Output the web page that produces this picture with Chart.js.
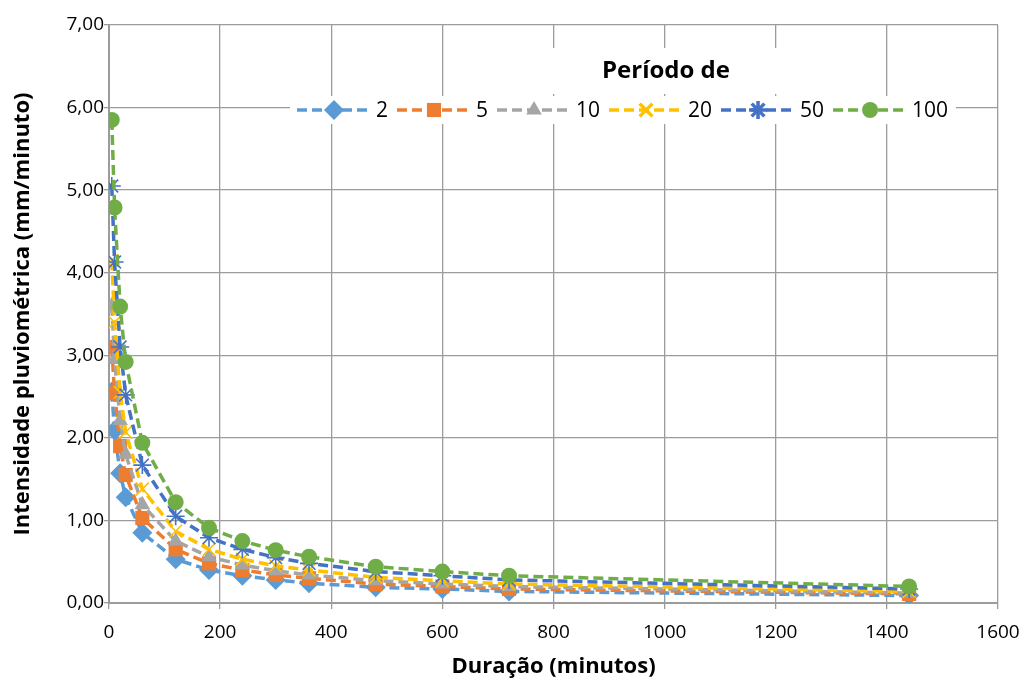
<!DOCTYPE html>
<html>
<head>
<meta charset="utf-8">
<script src="https://cdn.jsdelivr.net/npm/chart.js@4"></script>
<style>
  html, body { margin: 0; padding: 0; background: #fff; }
  #wrap { width: 1025px; height: 686px; }
</style>
</head>
<body>
<div id="wrap"><canvas id="chart" width="1025" height="686"></canvas></div>
<script>
"use strict";

// durations in minutes (x) and intensities in mm/minute per return period
const durations = [5, 10, 20, 30, 60, 120, 180, 240, 300, 360, 480, 600, 720, 1440];
const periodLabels = ['2', '5', '10', '20', '50', '100'];
const xTicks = [0, 200, 400, 600, 800, 1000, 1200, 1400, 1600];
const yTicks = [0, 1, 2, 3, 4, 5, 6, 7];

const period2 = [2.56, 2.09, 1.57, 1.28, 0.85, 0.53, 0.40, 0.33, 0.28, 0.24, 0.19, 0.17, 0.14, 0.09];
const period5 = [3.10, 2.54, 1.90, 1.55, 1.03, 0.65, 0.48, 0.40, 0.34, 0.30, 0.23, 0.20, 0.17, 0.11];
const period10 = [3.60, 2.95, 2.21, 1.80, 1.19, 0.75, 0.56, 0.46, 0.39, 0.34, 0.27, 0.23, 0.20, 0.12];
const period20 = [4.15, 3.40, 2.55, 2.07, 1.38, 0.87, 0.65, 0.53, 0.45, 0.40, 0.31, 0.27, 0.23, 0.14];
const period50 = [5.05, 4.13, 3.10, 2.52, 1.67, 1.05, 0.79, 0.65, 0.55, 0.48, 0.38, 0.33, 0.28, 0.17];
const period100 = [5.85, 4.79, 3.59, 2.92, 1.94, 1.22, 0.91, 0.75, 0.64, 0.56, 0.44, 0.38, 0.33, 0.20];

const FONT = "'Open Sans', 'Liberation Sans', sans-serif";
const GRID = '#9c9c9c';

function toPoints(values) {
    return durations.map((d, i) => ({ x: d, y: values[i] }));
}

function makeSeries(label, values, color, pointStyle, radius, order) {
    const lineOnly = pointStyle === 'crossRot' || pointStyle === 'star';
    return {
        label: label,
        data: toPoints(values),
        borderColor: color,
        backgroundColor: color,
        borderWidth: 3.5,
        borderDash: [10, 5],
        tension: 0,
        pointStyle: pointStyle,
        pointRadius: radius,
        pointHoverRadius: radius,
        pointBackgroundColor: color,
        pointBorderColor: color,
        pointBorderWidth: lineOnly ? 1.6 : 0,
        order: order
    };
}

const datasets = [
    makeSeries(periodLabels[0], period2, '#5B9BD5', 'rectRot', 10, 6),
    makeSeries(periodLabels[1], period5, '#ED7D31', 'rect', 10, 5),
    makeSeries(periodLabels[2], period10, '#A5A5A5', 'triangle', 9, 4),
    makeSeries(periodLabels[3], period20, '#FFC000', 'crossRot', 9, 3),
    makeSeries(periodLabels[4], period50, '#4472C4', 'star', 9, 2),
    makeSeries(periodLabels[5], period100, '#70AD47', 'circle', 8, 1)
];

// legend drawn inside the plot, over a white box, like the spreadsheet one
const insideLegend = {
    id: 'insideLegend',
    afterDraw(chart) {
        const ctx = chart.ctx;
        ctx.save();
        ctx.fillStyle = '#fff';
        ctx.fillRect(545, 48, 245, 46);
        ctx.fillRect(290, 96, 666, 28);

        ctx.fillStyle = '#000';
        ctx.font = 'bold 24px ' + FONT;
        ctx.textAlign = 'center';
        ctx.textBaseline = 'middle';
        ctx.fillText('Período de', 666, 71);

        ctx.font = '21px ' + FONT;
        ctx.textAlign = 'left';
        let x = 297;
        const y = 110;
        chart.data.datasets.forEach(ds => {
            ctx.save();
            ctx.strokeStyle = ds.borderColor;
            ctx.lineWidth = ds.borderWidth;
            ctx.setLineDash(ds.borderDash);
            ctx.beginPath();
            ctx.moveTo(x, y);
            ctx.lineTo(x + 70, y);
            ctx.stroke();
            ctx.setLineDash([]);
            ctx.fillStyle = ds.pointBackgroundColor;
            ctx.strokeStyle = ds.pointBorderColor;
            Chart.helpers.drawPoint(ctx, {
                pointStyle: ds.pointStyle,
                radius: ds.pointRadius,
                borderWidth: ds.pointBorderWidth,
                rotation: 0
            }, x + 37, y);
            ctx.restore();
            ctx.fillStyle = '#000';
            ctx.fillText(ds.label, x + 79, y + 1);
            x += 79 + ctx.measureText(ds.label).width + 9;
        });
        ctx.restore();
    }
};

new Chart(document.getElementById('chart').getContext('2d'), {
    type: 'line',
    data: { datasets: datasets },
    plugins: [insideLegend],
    options: {
        responsive: false,
        animation: false,
        layout: { padding: { left: 6, right: 27, top: 25, bottom: 2 } },
        plugins: {
            legend: { display: false },
            tooltip: { enabled: false }
        },
        scales: {
            x: {
                type: 'linear',
                min: 0,
                max: 1600,
                afterBuildTicks: scale => { scale.ticks = xTicks.map(v => ({ value: v })); },
                afterFit: scale => {
                    scale.height = 686 - 603 - 2;
                    scale.paddingLeft = 0;
                    scale.paddingRight = 0;
                },
                grid: { color: GRID, lineWidth: 1.3, tickLength: 6, tickColor: GRID },
                border: { color: GRID, width: 2 },
                ticks: {
                    color: '#000',
                    font: { family: FONT, size: 19 },
                    padding: 12,
                    maxRotation: 0,
                    callback: v => String(v)
                },
                title: {
                    display: true,
                    text: 'Duração (minutos)',
                    color: '#000',
                    font: { family: FONT, size: 22, weight: 'bold' },
                    padding: { top: 0 }
                }
            },
            y: {
                min: 0,
                max: 7,
                afterBuildTicks: scale => { scale.ticks = yTicks.map(v => ({ value: v })); },
                afterFit: scale => {
                    scale.width = 109 - 6;
                    scale.paddingTop = 0;
                    scale.paddingBottom = 0;
                },
                grid: { color: GRID, lineWidth: 1.3, tickLength: 5, tickColor: GRID },
                border: { color: GRID, width: 2 },
                ticks: {
                    color: '#000',
                    font: { family: FONT, size: 19 },
                    padding: 0,
                    callback: v => v.toFixed(2).replace('.', ',')
                },
                title: {
                    display: true,
                    text: 'Intensidade pluviométrica (mm/minuto)',
                    color: '#000',
                    font: { family: FONT, size: 22, weight: 'bold' },
                    padding: { bottom: 2 }
                }
            }
        }
    }
});
</script>
</body>
</html>
